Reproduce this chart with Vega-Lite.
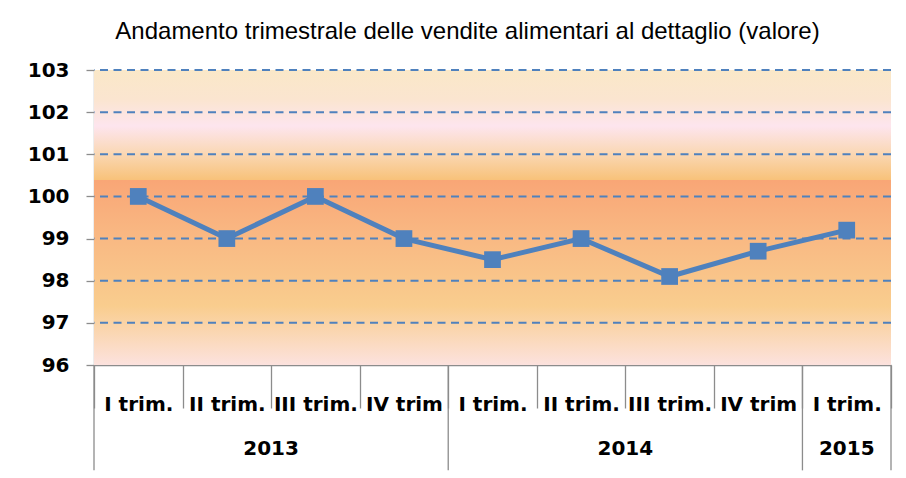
{
  "$schema": "https://vega.github.io/schema/vega-lite/v6.json",
  "width": 797,
  "height": 295,
  "autosize": {"type": "none"},
  "padding": {"left": 94, "top": 70, "right": 15, "bottom": 113},
  "background": "white",
  "title": {
    "text": "Andamento trimestrale delle vendite alimentari al dettaglio (valore)",
    "font": "Liberation Sans",
    "fontSize": 24,
    "fontWeight": "normal",
    "color": "#000000",
    "anchor": "middle",
    "frame": "group",
    "dx": -25,
    "offset": 16
  },
  "config": {
    "view": {"stroke": null},
    "axis": {"labelFont": "DejaVu Sans", "labelFontWeight": "bold", "labelColor": "#000000"}
  },
  "datasets": {
    "vendite": [
      {"periodo": "I trim.|2013", "anno": "2013", "valore": 100},
      {"periodo": "II trim.|2013", "anno": "2013", "valore": 99},
      {"periodo": "III trim.|2013", "anno": "2013", "valore": 100},
      {"periodo": "IV trim|2013", "anno": "2013", "valore": 99},
      {"periodo": "I trim.|2014", "anno": "2014", "valore": 98.5},
      {"periodo": "II trim.|2014", "anno": "2014", "valore": 99},
      {"periodo": "III trim.|2014", "anno": "2014", "valore": 98.1},
      {"periodo": "IV trim|2014", "anno": "2014", "valore": 98.7},
      {"periodo": "I trim.|2015", "anno": "2015", "valore": 99.2}
    ],
    "anni": [
      {"anno": "2013", "inizio": "I trim.|2013", "centro": "III trim.|2013"},
      {"anno": "2014", "inizio": "I trim.|2014", "centro": "III trim.|2014"},
      {"anno": "2015", "inizio": "I trim.|2015", "centro": "I trim.|2015"}
    ],
    "griglia": [
      {"livello": 97}, {"livello": 98}, {"livello": 99}, {"livello": 100},
      {"livello": 101}, {"livello": 102}, {"livello": 103}
    ]
  },
  "layer": [
    {
      "data": {"values": [{"lo": 96, "hi": 103}]},
      "mark": {
        "type": "rect",
        "color": {
          "gradient": "linear",
          "x1": 0, "y1": 0, "x2": 0, "y2": 1,
          "stops": [
            {"offset": 0, "color": "#FAE8C8"},
            {"offset": 0.1, "color": "#FBE5D0"},
            {"offset": 0.19, "color": "#FDE5EE"},
            {"offset": 0.28, "color": "#FAD8B6"},
            {"offset": 0.372, "color": "#F8C27A"},
            {"offset": 0.374, "color": "#F9A676"},
            {"offset": 0.55, "color": "#F9B782"},
            {"offset": 0.8, "color": "#F9CD8E"},
            {"offset": 1, "color": "#FCE2DE"}
          ]
        }
      },
      "encoding": {
        "y": {"field": "lo", "type": "quantitative", "scale": {"domain": [96, 103]}},
        "y2": {"field": "hi"}
      }
    },
    {
      "data": {"name": "griglia"},
      "mark": {"type": "rule", "color": "#4F81BD", "strokeWidth": 2, "strokeDash": [8, 5.5]},
      "encoding": {
        "y": {"field": "livello", "type": "quantitative"}
      }
    },
    {
      "data": {"name": "vendite"},
      "mark": {"type": "line", "color": "#4F81BD", "strokeWidth": 5},
      "encoding": {
        "x": {
          "field": "periodo", "type": "nominal", "sort": null,
          "scale": {"type": "band", "paddingInner": 0, "paddingOuter": 0},
          "axis": {
            "title": null,
            "labelExpr": "split(datum.label, '|')[0]",
            "labelAngle": 0,
            "labelFontSize": 20,
            "labelBaseline": "top",
            "labelPadding": -14,
            "tickBand": "extent",
            "tickColor": "#8C8C8C",
            "tickWidth": 1.3,
            "tickSize": 43,
            "domainColor": "#8C8C8C",
            "domainWidth": 1.3,
            "grid": false
          }
        },
        "y": {
          "field": "valore", "type": "quantitative",
          "scale": {"domain": [96, 103], "nice": false, "zero": false},
          "axis": {
            "title": null,
            "values": [96, 97, 98, 99, 100, 101, 102, 103],
            "labelFontSize": 20,
            "labelPadding": 17,
            "tickSize": 8,
            "tickColor": "#8C8C8C",
            "tickWidth": 1.3,
            "domainColor": "#8C8C8C",
            "domainWidth": 1.3,
            "grid": false
          }
        }
      }
    },
    {
      "data": {"name": "vendite"},
      "mark": {"type": "point", "shape": "square", "filled": true, "opacity": 1, "size": 280, "color": "#4F81BD"},
      "encoding": {
        "x": {"field": "periodo", "type": "nominal", "sort": null},
        "y": {"field": "valore", "type": "quantitative"}
      }
    },
    {
      "data": {"name": "anni"},
      "mark": {"type": "rule", "color": "#8C8C8C", "strokeWidth": 1.3, "clip": false},
      "encoding": {
        "x": {"field": "inizio", "type": "nominal", "sort": null, "bandPosition": 0},
        "y": {"datum": 96},
        "y2": {"datum": 93.5}
      }
    },
    {
      "data": {"values": [{"fine": "I trim.|2015"}]},
      "mark": {"type": "rule", "color": "#8C8C8C", "strokeWidth": 1.3, "clip": false},
      "encoding": {
        "x": {"field": "fine", "type": "nominal", "sort": null, "bandPosition": 1},
        "y": {"datum": 96},
        "y2": {"datum": 93.5}
      }
    },
    {
      "data": {"name": "anni"},
      "transform": [{"filter": "datum.anno != '2015'"}],
      "mark": {"type": "text", "font": "DejaVu Sans", "fontWeight": "bold", "fontSize": 20, "baseline": "middle", "align": "center", "clip": false, "color": "#000000"},
      "encoding": {
        "x": {"field": "centro", "type": "nominal", "sort": null, "bandPosition": 0},
        "y": {"datum": 94},
        "text": {"field": "anno"}
      }
    },
    {
      "data": {"name": "anni"},
      "transform": [{"filter": "datum.anno == '2015'"}],
      "mark": {"type": "text", "font": "DejaVu Sans", "fontWeight": "bold", "fontSize": 20, "baseline": "middle", "align": "center", "clip": false, "color": "#000000"},
      "encoding": {
        "x": {"field": "centro", "type": "nominal", "sort": null, "bandPosition": 0.5},
        "y": {"datum": 94},
        "text": {"field": "anno"}
      }
    }
  ]
}
